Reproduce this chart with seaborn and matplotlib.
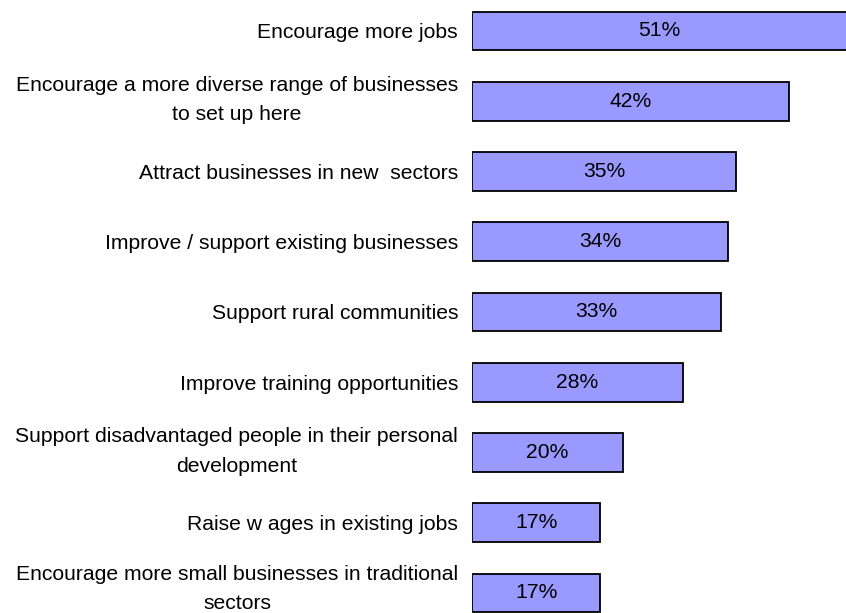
import matplotlib
matplotlib.use("Agg")
import matplotlib.pyplot as plt
import matplotlib.transforms as mtransforms
import seaborn as sns
import pandas as pd

# Survey answers: what local economic development should aim to do
categories = [
    "Encourage more jobs",
    "Encourage a more diverse range of businesses\nto set up here",
    "Attract businesses in new  sectors",
    "Improve / support existing businesses",
    "Support rural communities",
    "Improve training opportunities",
    "Support disadvantaged people in their personal\ndevelopment",
    "Raise w ages in existing jobs",
    "Encourage more small businesses in traditional\nsectors",
]
values = [51, 42, 35, 34, 33, 28, 20, 17, 17]

df = pd.DataFrame({"category": categories, "value": values})

sns.set_style("white")
plt.rcParams["font.family"] = ["Liberation Sans", "DejaVu Sans"]

FS = 15.2

fig = plt.figure(figsize=(8.46, 6.13), dpi=100)
ax = fig.add_axes([472 / 846, 0.0, 374 / 846, 1.0])

sns.barplot(
    data=df, x="value", y="category", orient="h",
    color="#9999FF", edgecolor="black", linewidth=1.3,
    width=0.55, saturation=1, ax=ax,
)

# value labels in the middle of each bar
ax.bar_label(ax.containers[0], labels=[f"{v}%" for v in values],
             label_type="center", fontsize=FS, color="black")

# axis range: the longest bar runs past the right edge
ax.set_xlim(0, 49.6)
ax.set_ylim(8.285, -0.441)

ax.set_xlabel("")
ax.set_ylabel("")
ax.set_xticks([])
ax.tick_params(axis="y", length=0, pad=10, labelsize=FS, labelcolor="black")
ticklabels = ax.get_yticklabels()
for i, lab in enumerate(ticklabels):
    lab.set_horizontalalignment("right")
    lab.set_multialignment("center")
    lab.set_linespacing(1.68)
    # two-line labels sit a little higher around their bar
    if "\n" in categories[i]:
        up = 11 if i == len(categories) - 1 else 8
        shift = mtransforms.ScaledTranslation(0, up / 100, fig.dpi_scale_trans)
        lab.set_transform(lab.get_transform() + shift)
for s in ax.spines.values():
    s.set_visible(False)
ax.patch.set_alpha(0)

fig.savefig("out.png", dpi=100, facecolor="white")
